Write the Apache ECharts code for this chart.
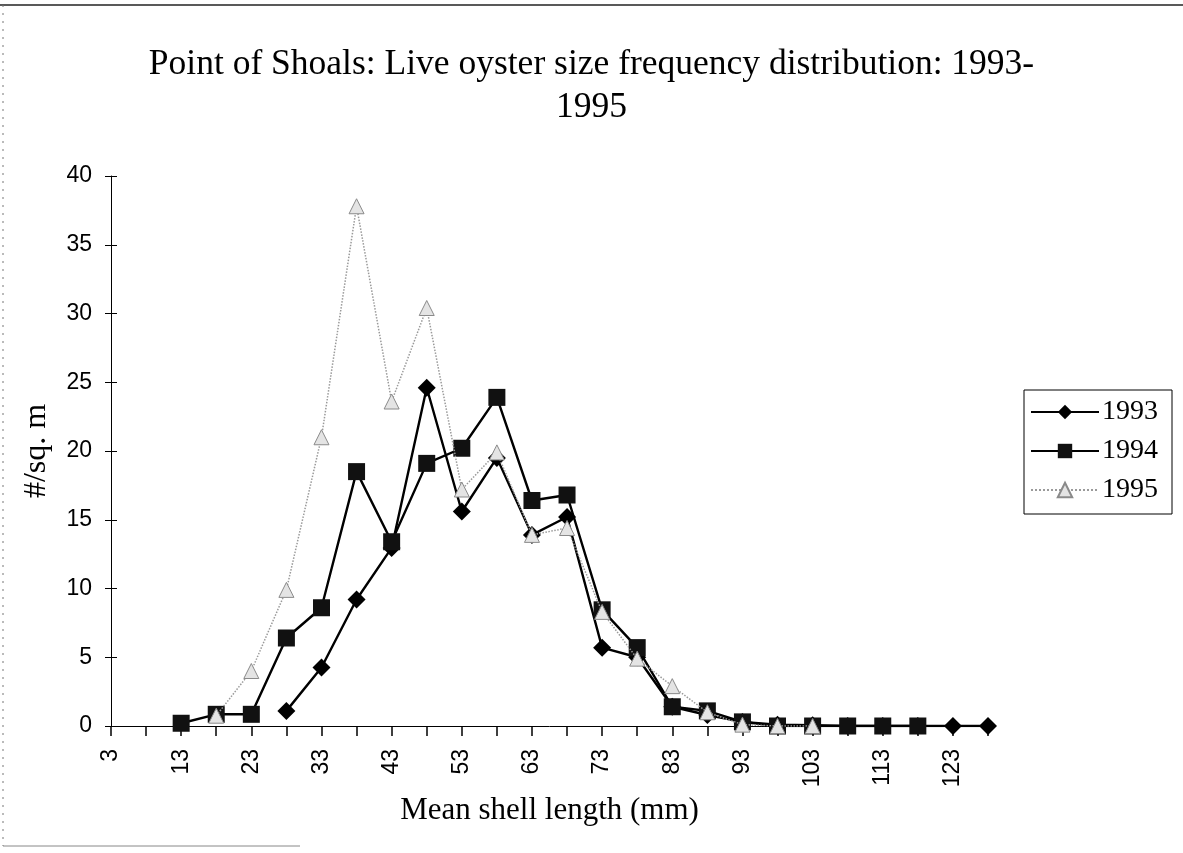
<!DOCTYPE html>
<html>
<head>
<meta charset="utf-8">
<script src="https://cdn.jsdelivr.net/npm/echarts@6/dist/echarts.min.js"></script>
<style>html,body{margin:0;padding:0;background:#fff}#c{width:1183px;height:853px}</style>
</head>
<body>
<div id="c"></div>
<script>
const categories = ['3','8','13','18','23','28','33','38','43','48','53','58','63','68','73','78','83','88','93','98','103','108','113','118','123','128'];
const y1993 = ['-','-','-','-','-',1.1,4.25,9.2,12.95,24.6,15.6,19.5,13.9,15.2,5.7,5.0,1.4,0.8,0.3,0.1,0.05,0,0,0,0,0];
const y1994 = ['-','-',0.2,0.85,0.85,6.4,8.6,18.5,13.4,19.1,20.2,23.9,16.4,16.8,8.45,5.7,1.4,1.1,0.3,0,0,0,0,0,'-','-'];
const y1995 = ['-','-','-',0.75,4.0,9.9,21.0,37.8,23.6,30.4,17.2,19.9,13.9,14.4,8.3,4.9,2.9,1.0,0.1,0,0,'-','-','-','-','-'];
const yTicks = {min:0, max:40, interval:5};

const chart = echarts.init(document.getElementById('c'));
const serif = 'Liberation Serif';
const sans = 'Liberation Sans';
chart.setOption({
  animation:false,
  backgroundColor:'#fff',
  title:{
    text:'Point of Shoals: Live oyster size frequency distribution: 1993-\n1995',
    left:'center', top:38,
    textStyle:{fontFamily:serif, fontSize:35.5, fontWeight:'normal', color:'#000', lineHeight:43}
  },
  legend:{
    orient:'vertical', right:11, top:390,
    itemWidth:68, itemHeight:18, itemGap:11,
    padding:[8,14,10,6],
    borderColor:'#000', borderWidth:1,
    textStyle:{fontFamily:serif, fontSize:28, color:'#000', padding:[0,0,0,-2]},
    data:['1993','1994','1995']
  },
  grid:{left:111, right:195, top:176, bottom:127},
  xAxis:{
    type:'category', data:categories, boundaryGap:false,
    name:'Mean shell length (mm)', nameLocation:'middle', nameGap:64,
    nameTextStyle:{fontFamily:serif, fontSize:31, color:'#000'},
    axisLine:{lineStyle:{color:'#000', width:1}},
    axisTick:{show:true, interval:0, length:10, lineStyle:{color:'#000', width:1.5}},
    axisLabel:{interval:1, rotate:90, fontFamily:sans, fontSize:23, color:'#000', margin:23},
    splitLine:{show:false}
  },
  yAxis:[{
    type:'value', min:yTicks.min, max:yTicks.max, interval:yTicks.interval,
    name:'#/sq. m', nameLocation:'middle', nameGap:58, nameRotate:90,
    nameTextStyle:{fontFamily:serif, fontSize:32, color:'#000'},
    axisLine:{show:true, lineStyle:{color:'#000', width:1}},
    axisTick:{show:true, length:6, lineStyle:{color:'#000'}},
    axisLabel:{fontFamily:sans, fontSize:23, color:'#000', margin:19},
    splitLine:{show:false}
  },{
    type:'value', min:yTicks.min, max:yTicks.max, interval:yTicks.interval, position:'left',
    axisLine:{show:false}, axisLabel:{show:false}, splitLine:{show:false},
    axisTick:{show:true, inside:true, length:6, lineStyle:{color:'#000'}}
  }],
  series:[{
    name:'1993', type:'line', data:y1993, symbol:'diamond', symbolSize:18,
    lineStyle:{color:'#000', width:2.4}, itemStyle:{color:'#000'}, z:3
  },{
    name:'1994', type:'line', data:y1994, symbol:'rect', symbolSize:17,
    lineStyle:{color:'#000', width:2.4}, itemStyle:{color:'#111'}, z:4
  },{
    name:'1995', type:'line', data:y1995, symbol:'triangle', symbolSize:15,
    lineStyle:{color:'#9a9a9a', width:1.5, type:'dotted'},
    itemStyle:{color:'#e4e4e4', borderColor:'#8a8a8a', borderWidth:1}, z:5
  }],
  graphic:[
    {type:'line', shape:{x1:0,y1:5,x2:1183,y2:5}, style:{stroke:'#222', lineWidth:1.5}},
    {type:'line', shape:{x1:3,y1:5,x2:3,y2:846}, style:{stroke:'#777', lineWidth:1, lineDash:[2,6]}},
    {type:'line', shape:{x1:3,y1:846,x2:300,y2:846}, style:{stroke:'#888', lineWidth:1}}
  ]
});
</script>
</body>
</html>
